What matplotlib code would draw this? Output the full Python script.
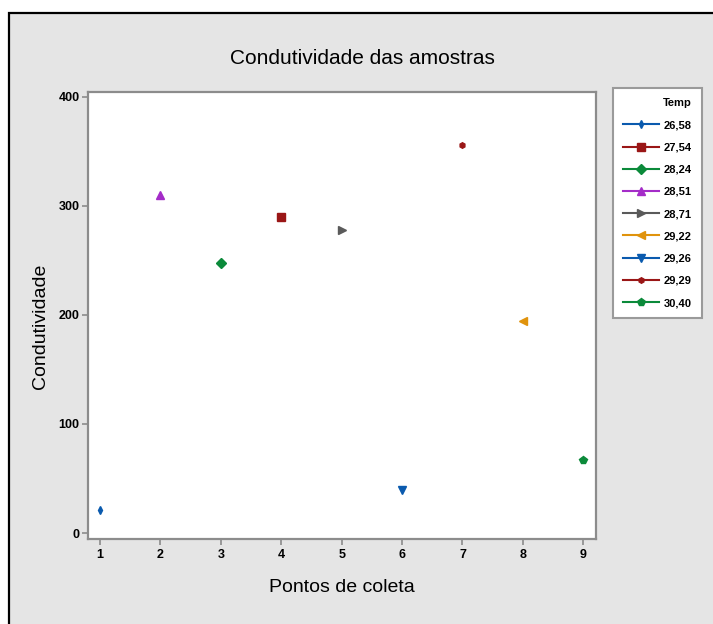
import matplotlib.pyplot as plt
from matplotlib.patches import Rectangle

# legend groups (Temp), sorted as in the legend
temp_labels = ["26,58", "27,54", "28,24", "28,51", "28,71", "29,22", "29,26", "29,29", "30,40"]
pontos = [1, 4, 3, 2, 5, 8, 6, 7, 9]
condutividade = [21, 290, 248, 310, 278, 194, 39, 356, 67]
colors = ["#0a5aae", "#9a1616", "#0b8a3a", "#a42cc8", "#5a5a5a", "#e0930c", "#0a5aae", "#9a1616", "#0b8a3a"]
markers = ["d", "s", "D", "^", ">", "<", "v", "h", "p"]
sizes = [4, 6, 5, 6, 6, 6, 6, 4, 6]

plt.rcParams["font.family"] = ["Liberation Sans", "DejaVu Sans"]

fig = plt.figure(figsize=(7.13, 6.24), dpi=100)
fig.patch.set_facecolor("white")
# gray panel with black frame (screenshot border)
fig.patches.append(Rectangle((9 / 713, -0.05), 1.2, 1.05 - 13 / 624,
                             transform=fig.transFigure, facecolor="#e5e5e5",
                             edgecolor="black", lw=1.6, zorder=-1))

ax = fig.add_axes([0.1234, 0.1362, 0.7125, 0.7164])
ax.set_facecolor("white")
for x, y, lab, c, m, s in zip(pontos, condutividade, temp_labels, colors, markers, sizes):
    ax.plot([x], [y], linestyle="-", color=c, marker=m, markersize=s, label=lab)

ax.set_xlim(0.80, 9.21)
ax.set_ylim(-5.5, 404.5)
ax.set_xticks(range(1, 10))
ax.set_yticks([0, 100, 200, 300, 400])
for sp in ax.spines.values():
    sp.set_color("#8c8c8c")
    sp.set_linewidth(1.6)
ax.tick_params(direction="out", length=4, width=1.2, color="#8c8c8c",
               labelsize=9, pad=2)
ax.tick_params(axis="x", pad=3)
for t in ax.get_xticklabels() + ax.get_yticklabels():
    t.set_fontweight("bold")

fig.text(0.508, 1 - 58 / 624, "Condutividade das amostras", ha="center", va="center", fontsize=15)
fig.text(342 / 713, 1 - 588 / 624, "Pontos de coleta", ha="center", va="center", fontsize=14)
fig.text(40 / 713, 1 - 326 / 624, "Condutividade", ha="center", va="center",
         fontsize=14, rotation=90)

leg = fig.legend(loc="upper left", bbox_to_anchor=(613 / 713, 1 - 88 / 624), title="Temp",
                 fontsize=8, title_fontsize=8, frameon=True, fancybox=False,
                 edgecolor="#9a9a9a", framealpha=1, handlelength=3.25, labelspacing=1.1,
                 borderpad=0.9, borderaxespad=0, alignment="right", handletextpad=0.4)
leg.get_frame().set_linewidth(1.5)
leg.get_title().set_fontweight("bold")
for t in leg.get_texts():
    t.set_fontweight("bold")

fig.savefig("out.png", dpi=100)
